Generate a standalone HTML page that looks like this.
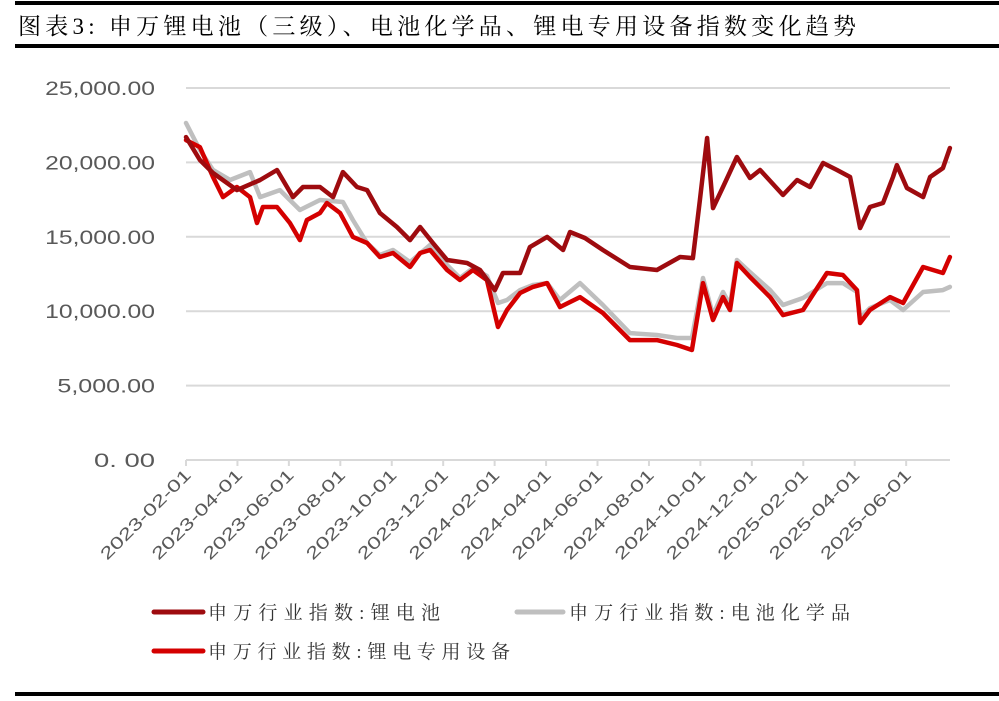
<!DOCTYPE html>
<html><head><meta charset="utf-8">
<style>
html,body{margin:0;padding:0;background:#fff;}
svg{display:block;}
</style></head>
<body>
<svg width="999" height="701" viewBox="0 0 999 701" xmlns="http://www.w3.org/2000/svg">
<rect x="0" y="0" width="999" height="701" fill="#fff"/>
<rect x="15" y="1" width="984" height="4" fill="#000"/>
<text x="18" y="34" font-family="'Liberation Serif','Noto Serif CJK SC',serif" font-size="23" fill="#000" textLength="838">图表3:  申万锂电池（三级）、电池化学品、锂电专用设备指数变化趋势</text>
<rect x="15" y="44" width="984" height="4" fill="#000"/>
<g id="grid"></g>
<g id="yaxis"></g>
<g id="xaxis"></g>
<g id="series"></g>
<g>
  <g>
    <line x1="154" y1="612" x2="203" y2="612" stroke="#9E0B0F" stroke-width="5" stroke-linecap="round"/>
    <text x="208" y="619" font-family="'Liberation Serif','Noto Serif CJK SC',serif" font-size="19" fill="#333" textLength="232" lengthAdjust="spacing">申万行业指数:锂电池</text>
  </g>
  <g>
    <line x1="517" y1="612" x2="563" y2="612" stroke="#BFBFBF" stroke-width="5" stroke-linecap="round"/>
    <text x="569" y="619" font-family="'Liberation Serif','Noto Serif CJK SC',serif" font-size="19" fill="#333" textLength="281" lengthAdjust="spacing">申万行业指数:电池化学品</text>
  </g>
  <g>
    <line x1="154" y1="651" x2="203" y2="651" stroke="#D40000" stroke-width="5" stroke-linecap="round"/>
    <text x="208" y="658" font-family="'Liberation Serif','Noto Serif CJK SC',serif" font-size="19" fill="#333" textLength="302" lengthAdjust="spacing">申万行业指数:锂电专用设备</text>
  </g>
</g>
<rect x="15" y="692" width="984" height="4" fill="#000"/>
</svg>
<script>
const yTicks = [0, 5000, 10000, 15000, 20000, 25000];
const yTickLabels = ["0. 00", "5,000.00", "10,000.00", "15,000.00", "20,000.00", "25,000.00"];
const xTickMonths = [0,2,4,6,8,10,12,14,16,18,20,22,24,26,28];
const xTickLabels = ["2023-02-01","2023-04-01","2023-06-01","2023-08-01","2023-10-01","2023-12-01","2024-02-01","2024-04-01","2024-06-01","2024-08-01","2024-10-01","2024-12-01","2025-02-01","2025-04-01","2025-06-01"];

const darkMonths = [0,.54,1.05,1.98,2.88,3.54,4.16,4.55,5.21,5.72,6.1,6.65,7.04,7.54,8.2,8.71,9.1,9.6,10.15,10.93,11.43,12.01,12.32,12.99,13.37,14.04,14.66,14.93,15.51,16.21,17.26,18.31,19.21,19.71,19.98,20.26,20.49,20.88,21.42,21.93,22.32,23.21,23.76,24.26,24.77,25.31,25.82,26.21,26.59,27.1,27.49,27.64,28.03,28.66,28.93,29.43,29.7];
const darkValues = [21700,20160,19290,18140,18820,19490,17670,18350,18350,17670,19350,18350,18140,16600,15660,14780,15660,14580,13440,13240,12770,11420,12570,12570,14310,14990,14110,15320,14920,14110,12970,12770,13640,13570,17470,21640,16930,18350,20360,18950,19490,17810,18820,18350,19960,19490,19020,15590,17000,17270,19020,19820,18280,17670,19020,19620,20970];

const redMonths = [0,.54,1.05,1.44,1.98,2.49,2.76,2.99,3.54,4.04,4.43,4.7,5.21,5.48,5.99,6.49,7.04,7.54,8.05,8.71,9.1,9.49,10.15,10.65,11.16,11.7,12.13,12.48,12.99,13.49,14.04,14.54,15.32,16.21,17.26,18.31,19.09,19.67,20.1,20.49,20.88,21.15,21.42,21.93,22.71,23.21,23.99,24.92,25.54,26.09,26.21,26.59,27.37,27.88,28.66,29.43,29.7];
const redValues = [21500,21030,19020,17670,18350,17670,15930,17000,17000,15930,14780,16130,16600,17270,16600,14990,14580,13640,13910,12970,13910,14110,12770,12100,12770,12100,8940,10080,11220,11630,11890,10280,10950,9880,8060,8060,7730,7390,11890,9410,10950,10080,13240,12300,10950,9740,10080,12570,12430,11420,9210,10080,10950,10550,12970,12570,13640];

const grayMonths = [0,.54,1.05,1.71,2.49,2.88,3.65,4.43,5.21,6.1,6.49,7.04,7.54,8.05,8.71,9.49,10.15,10.65,11.16,11.7,12.13,12.48,12.99,13.49,14.04,14.54,15.32,16.21,17.26,18.31,19.09,19.67,20.1,20.49,20.88,21.15,21.42,21.93,22.71,23.21,23.99,24.92,25.54,26.09,26.21,26.59,27.37,27.88,28.66,29.43,29.7];
const grayValues = [22650,20830,19490,18820,19350,17670,18140,16800,17470,17340,16130,14580,13780,14110,13300,14450,13100,12230,12900,12370,10550,10750,11420,11760,11890,10750,11890,10420,8530,8400,8200,8200,12230,9740,11290,10420,13440,12630,11420,10420,10890,11890,11890,11290,9540,10210,10750,10080,11290,11420,11630];

const NS = "http://www.w3.org/2000/svg";
const X0 = 186, MONTH_W = 25.72, Y0 = 460, YTOP = 88, YMAX = 25000;
function xScale(m){ return X0 + m * MONTH_W; }
function yScale(v){ return Y0 - (v / YMAX) * (Y0 - YTOP); }
function mk(tag, attrs, parent){ const e = document.createElementNS(NS, tag); for (const k in attrs) e.setAttribute(k, attrs[k]); parent.appendChild(e); return e; }

const grid = document.getElementById('grid');
const yaxis = document.getElementById('yaxis');
const xaxis = document.getElementById('xaxis');
const series = document.getElementById('series');
const xEnd = 950;

yTicks.forEach((t, i) => {
  const y = yScale(t);
  const ln = mk('line', {x1: X0, x2: xEnd, y1: y, y2: y, stroke: '#D9D9D9', 'stroke-width': 2}, grid);
  
  
  const lab = yTickLabels[i];
  const tx = mk('text', {x: 155, y: y + 7, 'text-anchor': 'end', 'font-family': "'Liberation Sans',sans-serif", 'font-size': 19, fill: '#595959', textLength: lab.length * 12.2, lengthAdjust: 'spacingAndGlyphs'}, yaxis);
  tx.textContent = lab;
  
  
});

xTickMonths.forEach((m, i) => {
  const x = xScale(m);
  const tk = mk('line', {x1: x, x2: x, y1: Y0, y2: Y0 + 6, stroke: '#D9D9D9', 'stroke-width': 2}, xaxis);
  
  
  const tx = mk('text', {x: 0, y: 0, 'text-anchor': 'end', 'font-family': "'Liberation Sans',sans-serif", 'font-size': 17, fill: '#595959', textLength: 120, lengthAdjust: 'spacingAndGlyphs', transform: `translate(${x + 6},${Y0 + 16}) rotate(-45)`}, xaxis);
  tx.textContent = xTickLabels[i];
  
  
});

function drawLine(months, vals, color, name){
  const d = months.map((m, i) => (i ? 'L' : 'M') + xScale(m).toFixed(1) + ',' + yScale(vals[i]).toFixed(1)).join(' ');
  const p = mk('path', {d: d, fill: 'none', stroke: color, 'stroke-width': 4.5, 'stroke-linejoin': 'round', 'stroke-linecap': 'round'}, series);
  
  
}
drawLine(grayMonths, grayValues, '#BFBFBF', 'line-battery-chemicals');
drawLine(redMonths, redValues, '#D40000', 'line-lithium-equipment');
drawLine(darkMonths, darkValues, '#9E0B0F', 'line-lithium-battery');
</script>
</body></html>
